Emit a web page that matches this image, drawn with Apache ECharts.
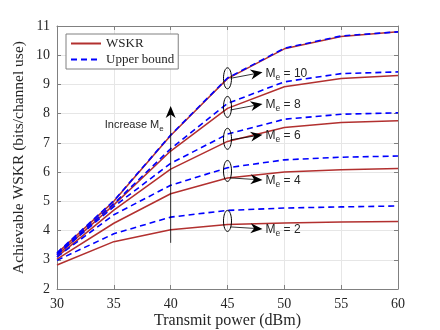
<!DOCTYPE html>
<html>
<head>
<meta charset="utf-8">
<script src="https://cdn.jsdelivr.net/npm/echarts@6/dist/echarts.min.js"></script>
<style>
  html, body { margin: 0; padding: 0; background: #fff; }
  #chart { width: 440px; height: 330px; }
</style>
</head>
<body>
<div id="chart"></div>
<script>
// transmit power (dBm)
const powers = [30, 35, 40, 45, 50, 55, 60];

// achievable WSKR
const wskrMe2 = [2.82, 3.62, 4.03, 4.21, 4.26, 4.29, 4.31];
const wskrMe4 = [3.02, 4.25, 5.26, 5.80, 6.00, 6.08, 6.12];
const wskrMe6 = [3.10, 4.70, 6.10, 7.05, 7.53, 7.70, 7.76];
const wskrMe8 = [3.15, 4.88, 6.72, 8.18, 8.92, 9.20, 9.31];
const wskrMe10 = [3.22, 5.00, 7.25, 9.20, 10.22, 10.64, 10.80];

// upper bounds
const ubMe2 = [2.98, 3.89, 4.46, 4.69, 4.77, 4.81, 4.84];
const ubMe4 = [3.10, 4.54, 5.55, 6.15, 6.42, 6.51, 6.55];
const ubMe6 = [3.17, 4.82, 6.30, 7.30, 7.81, 7.98, 8.03];
const ubMe8 = [3.20, 4.92, 6.80, 8.35, 9.09, 9.37, 9.43];
const ubMe10 = [3.24, 5.02, 7.27, 9.22, 10.24, 10.66, 10.80];

// annotation groups: label, ellipse centre (at 45 dBm)
const groupLabels = ['10', '8', '6', '4', '2'];
const ellipseCentres = [9.21, 8.23, 7.14, 6.04, 4.33];

const RED = '#b2302f';
const BLUE = '#0000ff';
const SERIF = '"Liberation Serif", "DejaVu Serif", serif';
const SANS = '"Liberation Sans", Arial, sans-serif';

const chart = echarts.init(document.getElementById('chart'));

const pair = (ys) => powers.map((p, i) => [p, ys[i]]);

const wskrSets = [wskrMe2, wskrMe4, wskrMe6, wskrMe8, wskrMe10];
const ubSets = [ubMe2, ubMe4, ubMe6, ubMe8, ubMe10];

const series = [];
wskrSets.forEach((ys) => {
  series.push({
    name: 'WSKR', type: 'line', data: pair(ys), symbol: 'none',
    lineStyle: {color: RED, width: 1.5}, itemStyle: {color: RED},
    animation: false, z: 2
  });
});
ubSets.forEach((ys) => {
  series.push({
    name: 'Upper bound', type: 'line', data: pair(ys), symbol: 'none',
    lineStyle: {color: BLUE, width: 1.6, type: [6, 4]}, itemStyle: {color: BLUE},
    animation: false, z: 3
  });
});

const boxAxis = {
  axisLine: {show: true, lineStyle: {color: '#808080', width: 1}},
  axisTick: {show: true, inside: true, length: 4, lineStyle: {color: '#808080'}}
};

chart.setOption({
  animation: false,
  grid: {left: 57, right: 42, top: 26, bottom: 41, outerBoundsMode: 'none', containLabel: false},
  legend: {
    data: ['WSKR', 'Upper bound'],
    orient: 'vertical',
    left: 66, top: 34,
    itemWidth: 30, itemHeight: 10, itemGap: 3,
    padding: [3, 4, 3, 4],
    backgroundColor: '#fff',
    borderColor: '#808080', borderWidth: 1, borderRadius: 0,
    itemStyle: {opacity: 0},
    textStyle: {fontFamily: SERIF, fontSize: 13, color: '#262626'}
  },
  xAxis: [{
    type: 'value', min: 30, max: 60, interval: 5,
    name: 'Transmit power (dBm)', nameLocation: 'middle', nameGap: 24,
    nameMoveOverlap: false,
    nameTextStyle: {fontFamily: SERIF, fontSize: 16, color: '#262626'},
    axisLabel: {fontFamily: SERIF, fontSize: 14, color: '#262626', margin: 8},
    splitLine: {show: true, lineStyle: {color: '#e6e6e6'}},
    ...boxAxis
  }, {
    type: 'value', min: 30, max: 60, interval: 5, position: 'top',
    axisLabel: {show: false}, splitLine: {show: false},
    ...boxAxis
  }],
  yAxis: [{
    type: 'value', min: 2, max: 11, interval: 1,
    name: 'Achievable WSKR (bits/channel use)', nameLocation: 'middle', nameGap: 30,
    nameMoveOverlap: false,
    nameTextStyle: {fontFamily: SERIF, fontSize: 15.5, color: '#262626'},
    axisLabel: {fontFamily: SERIF, fontSize: 14, color: '#262626', margin: 7},
    splitLine: {show: true, lineStyle: {color: '#e6e6e6'}},
    ...boxAxis
  }, {
    type: 'value', min: 2, max: 11, interval: 1, position: 'right',
    axisLabel: {show: false}, splitLine: {show: false},
    ...boxAxis
  }],
  series: series
});

// arrowhead polygon pointing from (x0,y0) toward (x1,y1), tip at (x1,y1)
function arrowHead(x0, y0, x1, y1, len, half) {
  const dx = x1 - x0, dy = y1 - y0;
  const d = Math.sqrt(dx * dx + dy * dy);
  const ux = dx / d, uy = dy / d;
  const nx = -uy, ny = ux;
  const bx = x1 - ux * len, by = y1 - uy * len;
  const mx = x1 - ux * len * 0.7, my = y1 - uy * len * 0.7;
  return {
    type: 'polygon',
    shape: {points: [[x1, y1], [bx + nx * half, by + ny * half], [mx, my], [bx - nx * half, by - ny * half]]},
    style: {fill: '#000'}, z: 10
  };
}

const graphics = [];
// per-group arrow offsets (px): start dy, end dy
const arrowOffsets = [[0, -6], [3, -3], [1, -4], [7, 9], [6, 8]];
ellipseCentres.forEach((v, i) => {
  const [cx, cy] = chart.convertToPixel({gridIndex: 0}, [45, v]);
  graphics.push({
    type: 'ellipse', shape: {cx: cx, cy: cy, rx: 4, ry: 10.5},
    style: {fill: 'none', stroke: '#000', lineWidth: 1}, z: 10
  });
  const x0 = cx + 3, y0 = cy + arrowOffsets[i][0];
  const x1 = cx + 35, y1 = cy + arrowOffsets[i][1];
  graphics.push({
    type: 'line', shape: {x1: x0, y1: y0, x2: x1 - 6, y2: y1 - (y1 - y0) * 6 / 32},
    style: {stroke: '#000', lineWidth: 0.8}, z: 10
  });
  graphics.push(arrowHead(x0, y0, x1, y1, 12, 5));
  graphics.push({
    type: 'text', x: x1 + 3, y: y1 + 1, z: 10,
    style: {
      text: '{a|M}{b|e}{a| = ' + groupLabels[i] + '}',
      verticalAlign: 'middle',
      rich: {
        a: {fontFamily: SANS, fontSize: 12, fill: '#262626', lineHeight: 15},
        b: {fontFamily: SANS, fontSize: 8.5, fill: '#262626', padding: [8, 0, 0, 0]}
      }
    }
  });
});

// "Increase Me" vertical arrow at 40 dBm
const [ax, ayBottom] = chart.convertToPixel({gridIndex: 0}, [40, 3.58]);
const ayTop = chart.convertToPixel({gridIndex: 0}, [40, 8.26])[1];
graphics.push({
  type: 'line', shape: {x1: ax, y1: ayBottom, x2: ax, y2: ayTop + 7},
  style: {stroke: '#000', lineWidth: 0.8}, z: 10
});
graphics.push(arrowHead(ax, ayBottom, ax, ayTop, 12, 5));
const textY = chart.convertToPixel({gridIndex: 0}, [40, 7.6])[1];
graphics.push({
  type: 'text', x: ax - 7, y: textY, z: 10,
  style: {
    text: '{a|Increase M}{b|e}',
    align: 'right', verticalAlign: 'middle',
    rich: {
      a: {fontFamily: SANS, fontSize: 11, fill: '#262626', lineHeight: 14},
      b: {fontFamily: SANS, fontSize: 8, fill: '#262626', padding: [7, 0, 0, 0]}
    }
  }
});

chart.setOption({graphic: graphics});
</script>
</body>
</html>
